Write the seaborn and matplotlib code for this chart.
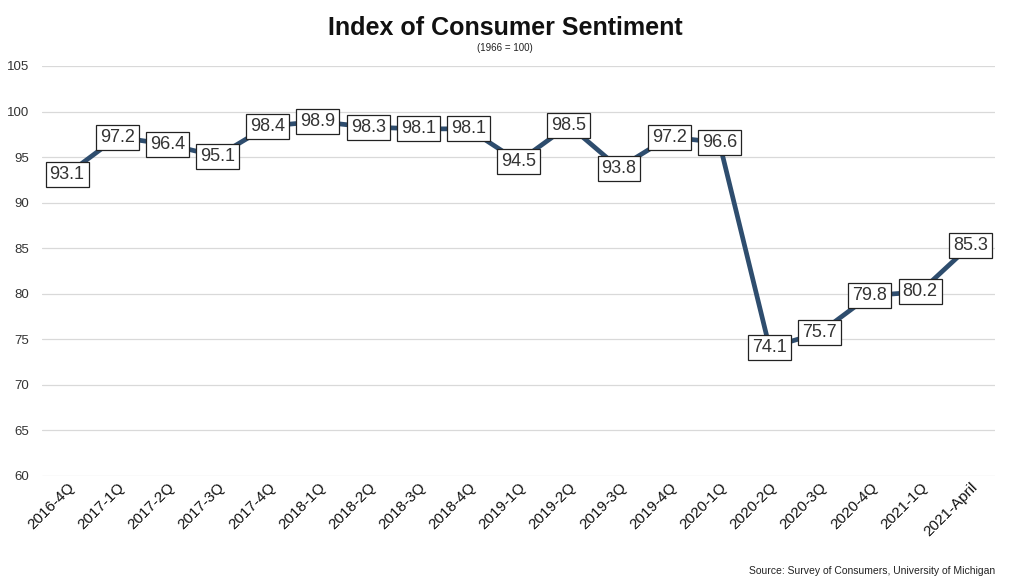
import seaborn as sns
import matplotlib
matplotlib.use("Agg")
import matplotlib.pyplot as plt
import pandas as pd

sns.set_theme(style="whitegrid")
plt.rcParams['font.family'] = ['Liberation Sans', 'DejaVu Sans']

# data
periods = ['2016-4Q', '2017-1Q', '2017-2Q', '2017-3Q', '2017-4Q', '2018-1Q', '2018-2Q',
           '2018-3Q', '2018-4Q', '2019-1Q', '2019-2Q', '2019-3Q', '2019-4Q', '2020-1Q',
           '2020-2Q', '2020-3Q', '2020-4Q', '2021-1Q', '2021-April']
sentiment = [93.1, 97.2, 96.4, 95.1, 98.4, 98.9, 98.3, 98.1, 98.1, 94.5, 98.5, 93.8,
             97.2, 96.6, 74.1, 75.7, 79.8, 80.2, 85.3]
y_ticks = [60, 65, 70, 75, 80, 85, 90, 95, 100, 105]

df = pd.DataFrame({'period': periods, 'index': sentiment})
df['pos'] = range(len(df))

fig = plt.figure(figsize=(10.24, 5.84), dpi=100)
ax = fig.add_axes([0.041, 0.185, 0.931, 0.702])

sns.lineplot(data=df, x='pos', y='index', color='#2E4D6E', linewidth=3.4, ax=ax)

# value boxes centred on each point
for p, v in zip(df['pos'], df['index']):
    ax.text(p, v, f'{v:.1f}', ha='center', va='center', fontsize=13, color='#333333',
            bbox=dict(boxstyle='square,pad=0.22', facecolor='white', edgecolor='#222222', linewidth=0.9),
            zorder=5)

ax.set_xlim(-0.5, len(periods) - 0.5)
ax.set_ylim(60, 105)
ax.set_yticks(y_ticks)
ax.set_xticks(df['pos'])
ax.set_xticklabels(periods, rotation=45, ha='right', rotation_mode='anchor', fontsize=11, color='#111111')
ax.tick_params(axis='y', labelsize=9.5, colors='#333333', length=0, pad=9)
ax.tick_params(axis='x', length=0, pad=3)
ax.grid(axis='x', visible=False)
ax.grid(axis='y', color='#d9d9d9', linewidth=0.9)
for s in ax.spines.values():
    s.set_visible(False)
ax.set_xlabel('')
ax.set_ylabel('')

fig.text(0.493, 0.952, 'Index of Consumer Sentiment', ha='center', va='center',
         fontsize=18, fontweight='bold', color='#111111')
fig.text(0.493, 0.918, '(1966 = 100)', ha='center', va='center', fontsize=7, color='#222222')
fig.text(0.972, 0.022, 'Source: Survey of Consumers, University of Michigan', ha='right',
         va='center', fontsize=7.5, color='#222222')

fig.savefig('out.png', dpi=100)
